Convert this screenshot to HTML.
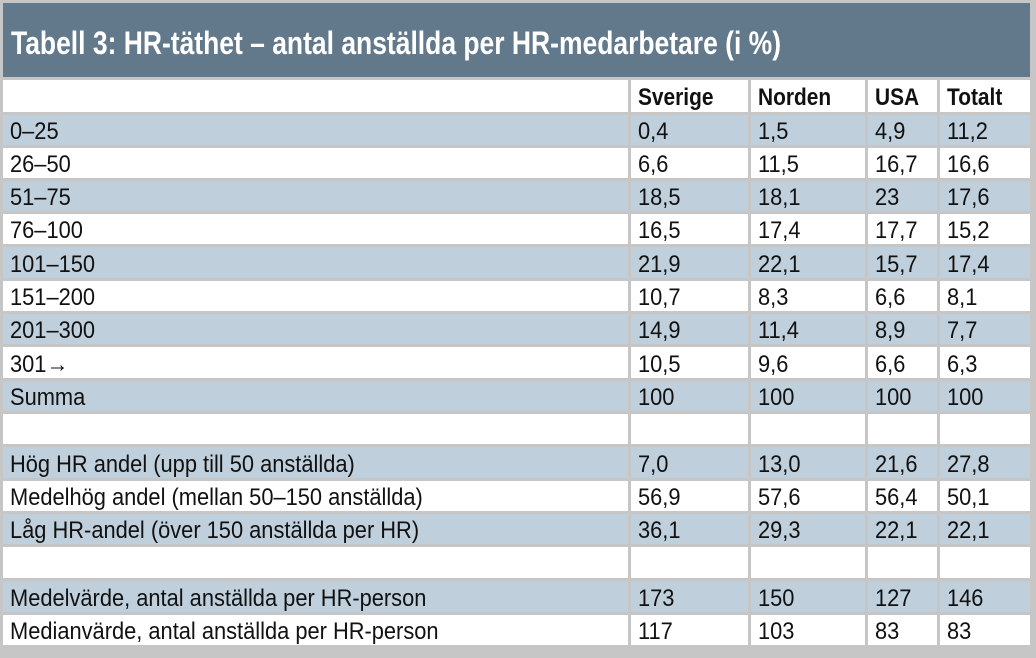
<!DOCTYPE html>
<html><head><meta charset="utf-8">
<style>
body{margin:0;background:#fff;}
#wrap{position:relative;width:1036px;height:658px;background:#c6c6c6;overflow:hidden;font-family:"Liberation Sans",Arial,sans-serif;}
#title{position:absolute;left:3px;top:3px;width:1027px;height:74px;background:#62788b;}
#title span{position:absolute;left:8px;top:22px;color:#fff;font-weight:bold;font-size:32px;line-height:36px;white-space:nowrap;transform-origin:0 0;}
.row{position:absolute;left:3px;width:1027px;}
.cell{position:absolute;top:0;bottom:0;font-size:24px;color:#111;white-space:nowrap;padding-left:7px;box-sizing:border-box;overflow:hidden;}
.cell span{display:inline-block;transform:scaleX(0.91);transform-origin:0 50%;position:relative;top:2px;}
.hdr .cell{font-weight:bold;}
.hdr .cell span{transform:scaleX(0.87);}
</style></head>
<body>
<div id="wrap">
  <div id="title"><span id="tt">Tabell 3: HR-täthet – antal anställda per HR-medarbetare (i %)</span></div>
</div>
<script>
const rowLabels=["","0–25","26–50","51–75","76–100","101–150","151–200","201–300","301→","Summa","","Hög HR andel (upp till 50 anställda)","Medelhög andel (mellan 50–150 anställda)","Låg HR-andel (över 150 anställda per HR)","","Medelvärde, antal anställda per HR-person","Medianvärde, antal anställda per HR-person"];
const sverige=["Sverige","0,4","6,6","18,5","16,5","21,9","10,7","14,9","10,5","100","","7,0","56,9","36,1","","173","117"];
const norden=["Norden","1,5","11,5","18,1","17,4","22,1","8,3","11,4","9,6","100","","13,0","57,6","29,3","","150","103"];
const usa=["USA","4,9","16,7","23","17,7","15,7","6,6","8,9","6,6","100","","21,6","56,4","22,1","","127","83"];
const totalt=["Totalt","11,2","16,6","17,6","15,2","17,4","8,1","7,7","6,3","100","","27,8","50,1","22,1","","146","83"];
const rowTops=[80,115,148,181,214,247,281,314,347,381,414,447,481,514,547,581,615];
const colL=[0,628,748,865,937];
const colR=[625,745,862,934,1027];
const wrap=document.getElementById('wrap');
const cols=[rowLabels,sverige,norden,usa,totalt];
const colNames=['label','sverige','norden','usa','totalt'];
for(let r=0;r<rowLabels.length;r++){
  const row=document.createElement('div');
  row.className='row'+(r===0?' hdr':'');
  
  
  const top=rowTops[r];
  const h=(r+1<rowTops.length?rowTops[r+1]:648)-top-3;
  row.style.top=top+'px';row.style.height=h+'px';
  for(let c=0;c<5;c++){
    const cell=document.createElement('div');
    cell.className='cell';
    
    
    cell.style.left=colL[c]+'px';cell.style.width=(colR[c]-colL[c])+'px';
    cell.style.background=(r%2===1)?'#bfd0dc':'#ffffff';
    cell.style.lineHeight=h+'px';
    const sp=document.createElement('span');
    sp.textContent=cols[c][r];
    cell.appendChild(sp);
    row.appendChild(cell);
  }
  wrap.appendChild(row);
}
const tt=document.getElementById('tt');
const w=tt.getBoundingClientRect().width;
tt.style.transform='scaleX('+(770/w)+')';
</script>
</body></html>
